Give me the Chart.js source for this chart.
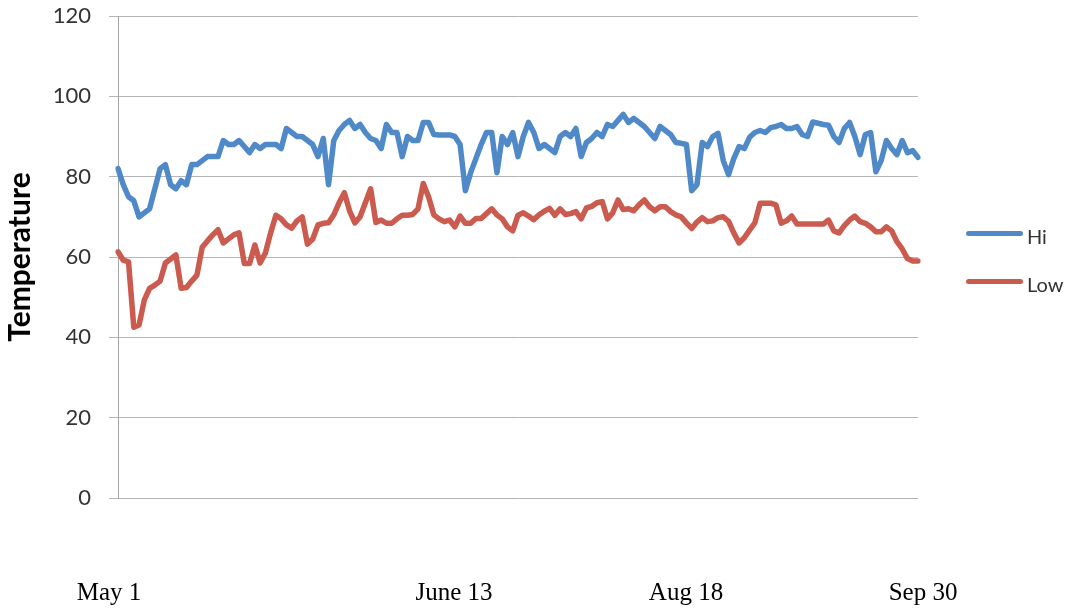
<!DOCTYPE html>
<html>
<head>
<meta charset="utf-8">
<script src="https://cdn.jsdelivr.net/npm/chart.js@4"></script>
<style>
  body { margin: 0; background: #fff; }
  #wrap { position: relative; width: 1076px; height: 609px; }
  .legend-item { position: absolute; left: 966px; height: 30px; }
  .legend-line { position: absolute; left: 0; width: 57px; height: 5px; border-radius: 3px; }
  .legend-text { position: absolute; left: 61px; font-family: Lato, sans-serif; font-size: 20px; color: #333; line-height: 30px; top: 0; }
  .date-label { position: absolute; top: 577px; font-family: 'Liberation Serif', serif; font-size: 25px; line-height: 30px; color: #000; transform: translateX(-50%); white-space: nowrap; }
</style>
</head>
<body>
<div id="wrap">
  <canvas id="temp-chart" width="1076" height="609"></canvas>
  <div id="legend"></div>
  <div id="dates"></div>
</div>
<script>
// Daily highs and lows, May 1 - Sep 30
const hiTemps = [
  82, 78, 75, 74, 70, 71, 72, 77, 82, 83,
  78, 77, 79, 78, 83, 83, 84, 85, 85, 85,
  89, 88, 88, 89, 87.5, 86, 88, 87, 88, 88,
  88, 87, 92, 91, 90, 90, 89, 88, 85, 89.5,
  78, 89, 91.5, 93, 94, 92, 93, 91, 89.5, 89,
  87, 93, 91, 91, 85, 90, 89, 89, 93.5, 93.5,
  90.5, 90.4, 90.4, 90.4, 90, 88, 76.5, 81, 84.5, 88,
  91, 91, 81, 90, 88, 91, 85, 90, 93.5, 91,
  87, 88, 87, 86, 90, 91, 90, 92, 85, 88.5,
  89.5, 91, 90, 93, 92.5, 94, 95.5, 93.5, 94.5, 93.5,
  92.5, 91, 89.5, 92.5, 91.5, 90.5, 88.5, 88.3, 88, 76.5,
  78, 88.5, 87.5, 90, 90.8, 84, 80.5, 84.5, 87.5, 87,
  89.8, 91, 91.5, 91, 92.2, 92.5, 93, 92, 92, 92.5,
  90.5, 90, 93.6, 93.3, 93, 92.8, 90, 88.5, 92, 93.5,
  90, 85.5, 90.5, 91, 81.2, 84, 89, 87, 85.5, 89,
  86, 86.5, 84.8
];
const lowTemps = [
  61.3, 59.2, 58.8, 42.5, 43.1, 49.3, 52.2, 53, 54, 58.5,
  59.5, 60.5, 52.2, 52.4, 54, 55.5, 62.4, 64, 65.5, 66.8,
  63.5, 64.5, 65.5, 66, 58.4, 58.4, 63, 58.5, 61, 66,
  70.4, 69.5, 68, 67.2, 69, 70, 63.2, 64.5, 68, 68.4,
  68.5, 70.5, 73.5, 76, 71.5, 68.5, 70, 73.5, 77, 68.6,
  69.2, 68.4, 68.4, 69.5, 70.4, 70.4, 70.6, 72, 78.3, 75,
  70.5, 69.5, 68.8, 69.2, 67.5, 70.2, 68.4, 68.4, 69.6, 69.6,
  70.8, 72, 70.5, 69.5, 67.5, 66.5, 70.4, 71, 70.2, 69.3,
  70.5, 71.4, 72.1, 70.4, 72, 70.6, 70.8, 71.3, 69.5, 72.2,
  72.6, 73.5, 73.8, 69.5, 71, 74.2, 71.8, 72, 71.5, 73,
  74.2, 72.5, 71.5, 72.5, 72.5, 71.3, 70.5, 70, 68.5, 67.1,
  68.7, 69.8, 68.8, 69, 69.8, 70, 68.9, 66, 63.5, 64.8,
  66.7, 68.5, 73.4, 73.4, 73.4, 73, 68.4, 69, 70.2, 68.2,
  68.2, 68.2, 68.2, 68.2, 68.2, 69.2, 66.5, 66, 67.8, 69.2,
  70.2, 68.8, 68.4, 67.5, 66.3, 66.3, 67.5, 66.5, 63.8, 62,
  59.6, 59, 59
];
const seriesNames = ['Hi', 'Low'];
const seriesColors = ['#4f89c7', '#cb5a4f'];
const dateLabels = ['May 1', 'June 13', 'Aug 18', 'Sep 30'];
const yTicks = [0, 20, 40, 60, 80, 100, 120];

// one category per day
const days = [];
for (let d = new Date(2011, 4, 1); d <= new Date(2011, 8, 30); d.setDate(d.getDate() + 1)) {
  days.push((d.getMonth() + 1) + '/' + d.getDate());
}

const ctx = document.getElementById('temp-chart');

new Chart(ctx, {
  type: 'line',
  data: {
    labels: days,
    datasets: [hiTemps, lowTemps].map((vals, i) => ({
      label: seriesNames[i],
      data: vals,
      borderColor: seriesColors[i],
      borderWidth: 5.5,
      borderJoinStyle: 'round',
      borderCapStyle: 'round',
      pointRadius: 0,
      tension: 0,
      fill: false
    }))
  },
  options: {
    responsive: false,
    animation: false,
    devicePixelRatio: 1,
    layout: { padding: { left: 0, right: 158, top: 16, bottom: 111 } },
    plugins: {
      legend: { display: false },
      tooltip: { enabled: false }
    },
    scales: {
      x: { display: false },
      y: {
        min: yTicks[0],
        max: yTicks[yTicks.length - 1],
        afterBuildTicks: (scale) => { scale.ticks = yTicks.map(v => ({ value: v })); },
        afterFit: (scale) => {
          scale.width = 118;
          // don't let the top label push the plot down
          scale.paddingTop = 0;
          scale.paddingBottom = 0;
        },
        ticks: {
          color: '#333',
          font: { family: 'Lato', size: 22 },
          padding: 18
        },
        grid: { color: '#b5b5b5', lineWidth: 1, tickLength: 9 },
        border: { color: '#a5a5a5', width: 1 },
        title: {
          display: true,
          text: 'Temperature',
          color: '#000',
          font: { family: 'Lato', size: 30, weight: 'bold' },
          padding: { top: 2, bottom: 0 }
        }
      }
    }
  }
});

// legend at right
const legendBox = document.getElementById('legend');
const legendTops = [221, 269];
seriesNames.forEach((name, i) => {
  const item = document.createElement('div');
  item.className = 'legend-item';
  item.style.top = legendTops[i] + 'px';
  item.innerHTML = `<div class="legend-line" style="top:10px;background:${seriesColors[i]}"></div>` +
    `<div class="legend-text">${name}</div>`;
  legendBox.appendChild(item);
});

// loose date captions under the chart
const dateBox = document.getElementById('dates');
const dateCenters = [109, 454, 686, 923];
dateLabels.forEach((txt, i) => {
  const el = document.createElement('div');
  el.className = 'date-label';
  el.style.left = dateCenters[i] + 'px';
  el.textContent = txt;
  dateBox.appendChild(el);
});
</script>
</body>
</html>
